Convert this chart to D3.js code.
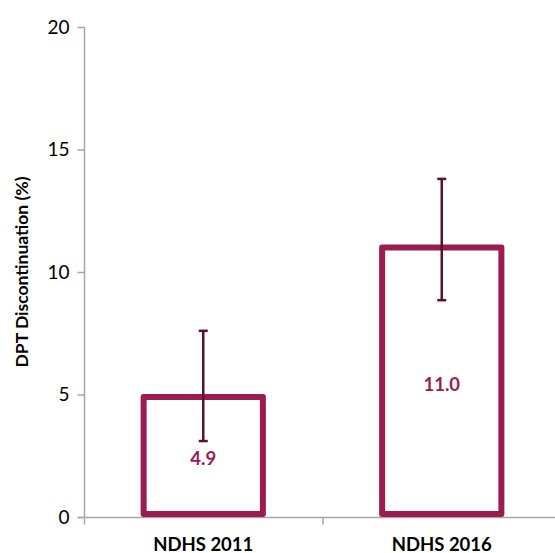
<!DOCTYPE html>
<html><head><meta charset="utf-8">
<script src="https://cdn.jsdelivr.net/npm/d3@7"></script>
<style>body{margin:0;background:#fff}svg{display:block}</style>
</head><body>
<script>
const categories = ["NDHS 2011", "NDHS 2016"];
const values = [4.9, 11.0];
const errLow = [3.1, 8.85];
const errHigh = [7.6, 13.8];
const valueLabels = ["4.9", "11.0"];
const yTicks = [0, 5, 10, 15, 20];
const yTitle = "DPT Discontinuation (%)";

const W = 555, H = 553;
const font = "Lato, 'Open Sans', sans-serif";
const svg = d3.select("body").append("svg").attr("width", W).attr("height", H);

const x = d3.scaleBand().domain(categories).range([84, 561]).paddingInner(0.5).paddingOuter(0.25);
const y = d3.scaleLinear().domain([0, 20]).range([517, 27]);

// y axis
const yAxis = svg.append("g").attr("transform", "translate(84.5,0)")
  .call(d3.axisLeft(y).tickValues(yTicks).tickSize(7).tickPadding(8).tickFormat(d3.format("d")));
yAxis.select(".domain").attr("stroke", "#a6a6a6").attr("stroke-width", 1.5).attr("d", `M0,${y(20)}V${y(0)}`);
yAxis.selectAll(".tick line").attr("stroke", "#a6a6a6").attr("stroke-width", 1.5);
yAxis.selectAll(".tick text").attr("font-family", font).attr("font-size", 19).attr("fill", "#000");

// x axis
const xAxisG = svg.append("g").attr("transform", `translate(0,${y(0)+0.5})`);
xAxisG.append("line").attr("x1", 78).attr("x2", 561).attr("stroke", "#a6a6a6").attr("stroke-width", 1.5);
const bounds = [84, (x(categories[0]) + x.bandwidth() + x(categories[1])) / 2];
xAxisG.selectAll(".xt").data(bounds).join("line")
  .attr("x1", d => d + 0.5).attr("x2", d => d + 0.5).attr("y1", 0).attr("y2", 7)
  .attr("stroke", "#a6a6a6").attr("stroke-width", 1.5);
xAxisG.selectAll(".xl").data(categories).join("text")
  .attr("x", d => x(d) + x.bandwidth() / 2).attr("y", 33)
  .attr("text-anchor", "middle").attr("font-family", font).attr("font-weight", "bold")
  .attr("font-size", 18.5).attr("fill", "#000").text(d => d);

// bars
const sw = 6;
svg.selectAll(".bar").data(categories).join("rect")
  .attr("x", d => x(d)).attr("width", x.bandwidth())
  .attr("y", (d, i) => y(values[i]))
  .attr("height", (d, i) => y(0) - sw / 2 - y(values[i]))
  .attr("fill", "#fff").attr("stroke", "#9c1c52").attr("stroke-width", sw)
  .attr("stroke-linejoin", "round");

// error bars
const eb = svg.selectAll(".eb").data(categories).join("g");
eb.append("line")
  .attr("x1", d => x(d) + x.bandwidth() / 2).attr("x2", d => x(d) + x.bandwidth() / 2)
  .attr("y1", (d, i) => y(errLow[i])).attr("y2", (d, i) => y(errHigh[i]))
  .attr("stroke", "#5c1030").attr("stroke-width", 2.5);
[errLow, errHigh].forEach(arr => {
  eb.append("line")
    .attr("x1", d => x(d) + x.bandwidth() / 2 - 4.5).attr("x2", d => x(d) + x.bandwidth() / 2 + 4.5)
    .attr("y1", (d, i) => y(arr[i])).attr("y2", (d, i) => y(arr[i]))
    .attr("stroke", "#5c1030").attr("stroke-width", 2.5);
});

// value labels
svg.selectAll(".vl").data(categories).join("text")
  .attr("x", d => x(d) + x.bandwidth() / 2)
  .attr("y", (d, i) => y(values[i] / 2) + 2)
  .attr("dy", "0.35em").attr("text-anchor", "middle")
  .attr("font-family", font).attr("font-weight", "bold").attr("font-size", 18.5)
  .attr("fill", "#9c1c52").text((d, i) => valueLabels[i]);

// y title
svg.append("text").attr("transform", `translate(28,${(y(0) + y(20)) / 2}) rotate(-90)`)
  .attr("text-anchor", "middle").attr("font-family", font).attr("font-weight", "bold")
  .attr("font-size", 17.5).attr("fill", "#000").text(yTitle);
</script>
</body></html>
